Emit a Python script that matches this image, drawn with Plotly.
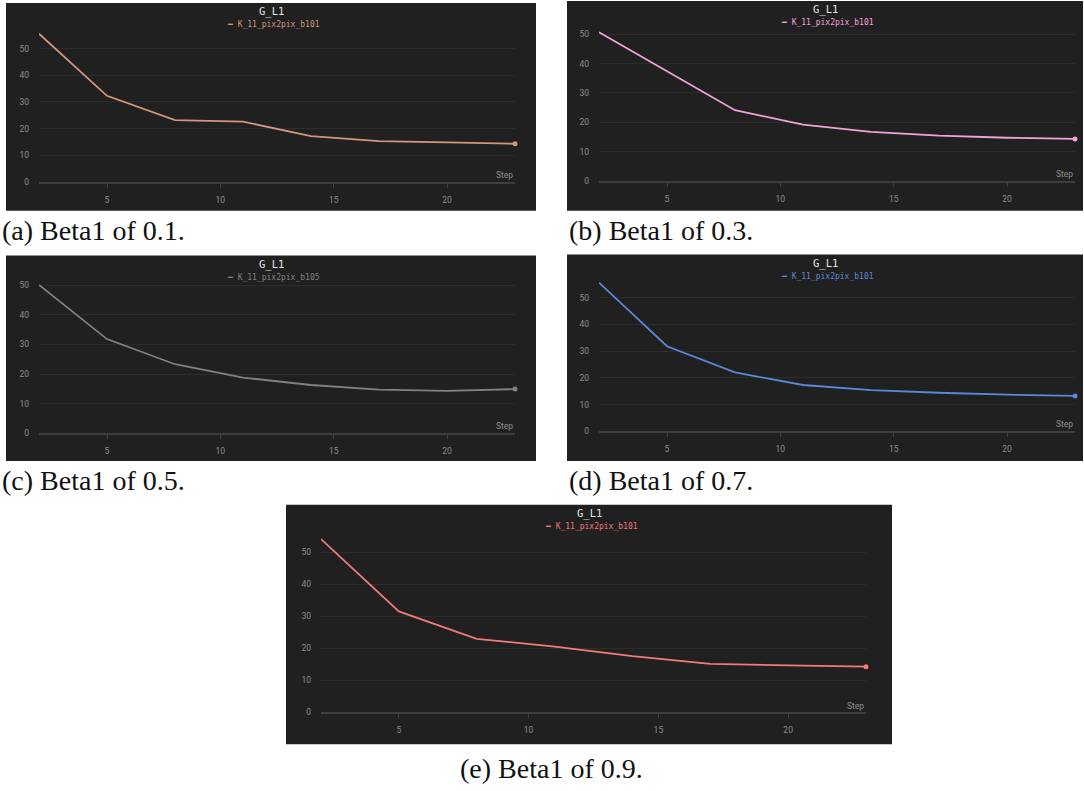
import plotly.graph_objects as go

W, H = 1084, 791

steps = [2, 5, 8, 11, 14, 17, 20, 23]
g_l1_b01 = [55.6, 32.3, 23.2, 22.6, 17.2, 15.3, 14.8, 14.3]
g_l1_b03 = [50.7, 37.3, 24.1, 19.2, 16.7, 15.4, 14.7, 14.3]
g_l1_b05 = [50.1, 31.8, 23.3, 18.8, 16.3, 14.7, 14.3, 14.9]
g_l1_b07 = [55.6, 31.8, 22.0, 17.3, 15.4, 14.4, 13.7, 13.2]
g_l1_b09 = [54.2, 31.6, 23.0, 20.6, 17.6, 15.2, 14.7, 14.3]

series_names = ["K_11_pix2pix_b101", "K_11_pix2pix_b101", "K_11_pix2pix_b105",
                "K_11_pix2pix_b101", "K_11_pix2pix_b101"]
captions = ["(a) Beta1 of 0.1.", "(b) Beta1 of 0.3.", "(c) Beta1 of 0.5.",
            "(d) Beta1 of 0.7.", "(e) Beta1 of 0.9."]
chart_title = "G_L1"
x_label = "Step"
x_ticks = [5, 10, 15, 20]
y_ticks = [0, 10, 20, 30, 40, 50]

all_values = [g_l1_b01, g_l1_b03, g_l1_b05, g_l1_b07, g_l1_b09]
colors = ["#d4957b", "#f2a3d6", "#7d8383", "#5b88d8", "#f27a78"]

# layout geometry (pixels): panel box, plot area, caption position
panels = [
    dict(box=(6, 3, 536, 212), plot=(39, 515, 183), scale=2.68, cap=(0, 232, "left")),
    dict(box=(567, 1, 1083, 212), plot=(599, 1075, 182), scale=2.95, cap=(567, 232, "left")),
    dict(box=(6, 257, 536, 464), plot=(39, 515, 436), scale=2.98, cap=(0, 484, "left")),
    dict(box=(567, 256, 1083, 464), plot=(599, 1075, 434), scale=2.69, cap=(567, 484, "left")),
    dict(box=(286, 508, 892, 749), plot=(321, 866, 717), scale=3.22, cap=(551, 773, "center")),
]

BG = "#202020"
GRID = "#2c2c2c"
AXIS = "#3e3e3e"
TICK = "#8e8e8e"

def px(x):
    return x / W

def py(y):
    return 1 - y / H

fig = go.Figure()
shapes = []
annotations = []

for i, (vals, col, name, cap, p) in enumerate(zip(all_values, colors, series_names, captions, panels)):
    n = i + 1
    xa = "x" if n == 1 else f"x{n}"
    ya = "y" if n == 1 else f"y{n}"
    bx0, by0, bx1, by1 = p["box"]
    lx0, lx1, zero_y = p["plot"]
    ytop_val = max(vals) * 1.03
    top_px = zero_y - ytop_val * p["scale"]

    fig.add_trace(go.Scatter(x=steps, y=vals, mode="lines", line=dict(color=col, width=1.8),
                             name=name, showlegend=False, xaxis=xa, yaxis=ya, hoverinfo="x+y"))
    fig.add_trace(go.Scatter(x=steps[-1:], y=vals[-1:], mode="markers",
                             marker=dict(color=col, size=5), showlegend=False, cliponaxis=False,
                             xaxis=xa, yaxis=ya, hoverinfo="skip"))

    xkey = "xaxis" if n == 1 else f"xaxis{n}"
    ykey = "yaxis" if n == 1 else f"yaxis{n}"
    fig.update_layout(**{
        xkey: dict(domain=[px(lx0), px(lx1)], anchor=ya, range=[steps[0], steps[-1]],
                   tickvals=x_ticks, showgrid=False, zeroline=False,
                   showline=True, linecolor=AXIS, linewidth=1.5,
                   ticks="outside", ticklen=4, tickcolor=AXIS, tickwidth=1,
                   ticklabelstandoff=5,
                   tickfont=dict(family="Roboto", size=8.5, color=TICK)),
        ykey: dict(domain=[py(zero_y), py(top_px)], anchor=xa, range=[0, ytop_val],
                   tickvals=y_ticks, showgrid=True, gridcolor=GRID, gridwidth=1,
                   zeroline=False, showline=False, ticks="",
                   ticklabelstandoff=9,
                   tickfont=dict(family="Roboto", size=8.5, color=TICK)),
    })

    shapes.append(dict(type="rect", xref="paper", yref="paper", layer="below",
                       x0=px(bx0), x1=px(bx1), y0=py(by1), y1=py(by0),
                       fillcolor=BG, line=dict(width=0)))

    cx = (bx0 + bx1) / 2
    annotations.append(dict(text=chart_title, xref="paper", yref="paper",
                            x=px(cx), y=py(by0 + 9), xanchor="center", yanchor="middle",
                            showarrow=False,
                            font=dict(family="DejaVu Sans Mono", size=10.5, color="#e6e6e6")))
    annotations.append(dict(text=f"━ {name}", xref="paper", yref="paper",
                            x=px(cx + 2), y=py(by0 + 22), xanchor="center", yanchor="middle",
                            showarrow=False,
                            font=dict(family="DejaVu Sans Mono", size=8, color=col)))
    annotations.append(dict(text=x_label, xref="paper", yref="paper",
                            x=px(lx1), y=py(zero_y - 7), xanchor="right", yanchor="middle",
                            showarrow=False,
                            font=dict(family="Roboto", size=8.5, color=TICK)))
    capx, capy, capalign = p["cap"]
    annotations.append(dict(text=cap, xref="paper", yref="paper",
                            x=px(capx), y=py(capy), xanchor=capalign, yanchor="middle",
                            showarrow=False,
                            font=dict(family="Liberation Serif", size=28, color="#111111")))

fig.update_layout(width=W, height=H, margin=dict(l=0, r=0, t=0, b=0),
                  paper_bgcolor="white", plot_bgcolor="rgba(0,0,0,0)",
                  shapes=shapes, annotations=annotations, showlegend=False)

fig.write_html("out.html")
